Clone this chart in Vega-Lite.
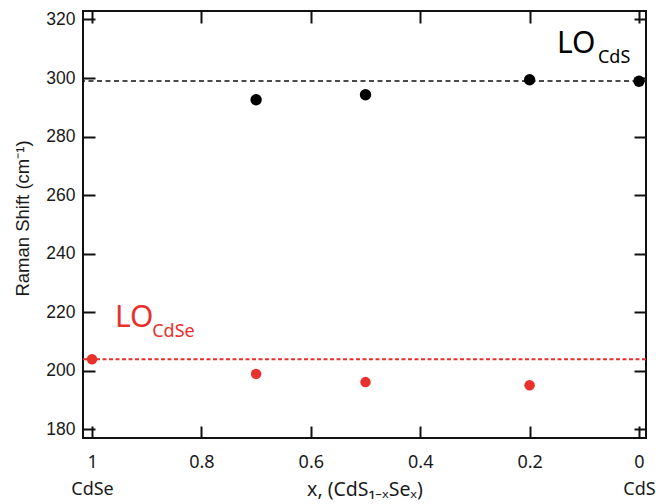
{
  "$schema": "https://vega.github.io/schema/vega-lite/v6.json",
  "width": 563,
  "height": 427,
  "autosize": {"type": "none"},
  "padding": {"left": 83, "top": 11, "right": 10, "bottom": 66},
  "background": "white",
  "config": {
    "view": {"stroke": "#111111", "strokeWidth": 2},
    "axis": {"domain": false, "grid": false, "tickColor": "#111111", "tickWidth": 2, "tickSize": -12, "labelColor": "#1a1a1a", "titleColor": "#1a1a1a", "titleFontWeight": "normal"}
  },
  "datasets": {
    "points": [
      {"x": 0.7, "shift": 292.6, "mode": "CdS"},
      {"x": 0.5, "shift": 294.3, "mode": "CdS"},
      {"x": 0.2, "shift": 299.4, "mode": "CdS"},
      {"x": 0.0, "shift": 298.9, "mode": "CdS"},
      {"x": 1.0, "shift": 203.9, "mode": "CdSe"},
      {"x": 0.7, "shift": 198.9, "mode": "CdSe"},
      {"x": 0.5, "shift": 196.1, "mode": "CdSe"},
      {"x": 0.2, "shift": 195.0, "mode": "CdSe"}
    ],
    "lo": [
      {"x": 0.150, "shift": 308.4, "mode": "CdS", "label": "LO"},
      {"x": 0.958, "shift": 214.9, "mode": "CdSe", "label": "LO"}
    ],
    "sub": [
      {"x": 0.075, "shift": 305.0, "mode": "CdS", "label": "CdS"},
      {"x": 0.890, "shift": 211.5, "mode": "CdSe", "label": "CdSe"}
    ]
  },
  "layer": [
    {
      "data": {"values": [{"shift": 299.0}]},
      "mark": {"type": "rule", "color": "#111111", "strokeWidth": 1.6, "strokeDash": [5, 3.5]},
      "encoding": {
        "y": {"field": "shift", "type": "quantitative", "scale": {"domain": [177, 322.9], "nice": false, "zero": false}, "axis": null}
      }
    },
    {
      "data": {"values": [{"shift": 203.9}]},
      "mark": {"type": "rule", "color": "#e8302c", "strokeWidth": 1.8, "strokeDash": [4, 2.5]},
      "encoding": {
        "y": {"field": "shift", "type": "quantitative", "scale": {"domain": [177, 322.9], "nice": false, "zero": false}, "axis": null}
      }
    },
    {
      "data": {"name": "points"},
      "mark": {"type": "circle", "opacity": 1},
      "encoding": {
        "x": {"field": "x", "type": "quantitative",
          "scale": {"domain": [-0.0128, 1.0165], "reverse": true, "nice": false, "zero": false},
          "axis": {"orient": "bottom", "values": [1, 0.8, 0.6, 0.4, 0.2, 0],
            "labelExpr": "datum.value == 1 ? ['1', 'CdSe'] : (datum.value == 0 ? ['0', 'CdS'] : format(datum.value, '.1f'))",
            "labelFont": "Noto Sans", "labelFontSize": 18, "labelLineHeight": 27, "labelPadding": 27, "labelBaseline": "top",
            "title": "x, (CdS₁₋ₓSeₓ)", "titleFont": "Noto Sans", "titleFontSize": 19.5, "titleY": 57, "titleBaseline": "alphabetic"}},
        "y": {"field": "shift", "type": "quantitative",
          "scale": {"domain": [177, 322.9], "nice": false, "zero": false},
          "axis": {"orient": "left", "values": [180, 200, 220, 240, 260, 280, 300, 320],
            "labelFont": "Liberation Sans", "labelFontSize": 17.5, "labelPadding": 20,
            "title": "Raman Shift (cm⁻¹)", "titleFont": "Liberation Sans", "titleFontSize": 18.5,
            "titleX": -61, "titleY": 207, "titleBaseline": "middle"}},
        "color": {"field": "mode", "type": "nominal", "scale": {"domain": ["CdS", "CdSe"], "range": ["#000000", "#e8302c"]}, "legend": null},
        "size": {"field": "mode", "type": "nominal", "scale": {"domain": ["CdS", "CdSe"], "range": [130, 110]}, "legend": null}
      }
    },
    {
      "data": {"name": "points"},
      "mark": {"type": "point", "opacity": 0},
      "encoding": {
        "x": {"field": "x", "type": "quantitative",
          "scale": {"domain": [-0.0128, 1.0165], "reverse": true, "nice": false, "zero": false},
          "axis": {"orient": "top", "values": [1, 0.8, 0.6, 0.4, 0.2, 0], "labels": false, "title": null}},
        "y": {"field": "shift", "type": "quantitative",
          "scale": {"domain": [177, 322.9], "nice": false, "zero": false},
          "axis": {"orient": "right", "values": [180, 200, 220, 240, 260, 280, 300, 320], "labels": false, "title": null}}
      }
    },
    {
      "data": {"name": "lo"},
      "mark": {"type": "text", "align": "left", "baseline": "alphabetic", "font": "Noto Sans", "fontSize": 30},
      "encoding": {
        "x": {"field": "x", "type": "quantitative", "scale": {"domain": [-0.0128, 1.0165], "reverse": true, "nice": false, "zero": false}, "axis": null},
        "y": {"field": "shift", "type": "quantitative", "scale": {"domain": [177, 322.9], "nice": false, "zero": false}, "axis": null},
        "text": {"field": "label"},
        "color": {"field": "mode", "type": "nominal", "scale": {"domain": ["CdS", "CdSe"], "range": ["#000000", "#e8302c"]}, "legend": null}
      }
    },
    {
      "data": {"name": "sub"},
      "mark": {"type": "text", "align": "left", "baseline": "alphabetic", "font": "Noto Sans", "fontSize": 18},
      "encoding": {
        "x": {"field": "x", "type": "quantitative", "scale": {"domain": [-0.0128, 1.0165], "reverse": true, "nice": false, "zero": false}, "axis": null},
        "y": {"field": "shift", "type": "quantitative", "scale": {"domain": [177, 322.9], "nice": false, "zero": false}, "axis": null},
        "text": {"field": "label"},
        "color": {"field": "mode", "type": "nominal", "scale": {"domain": ["CdS", "CdSe"], "range": ["#000000", "#e8302c"]}, "legend": null}
      }
    }
  ],
  "resolve": {"axis": {"x": "independent", "y": "independent"}}
}
